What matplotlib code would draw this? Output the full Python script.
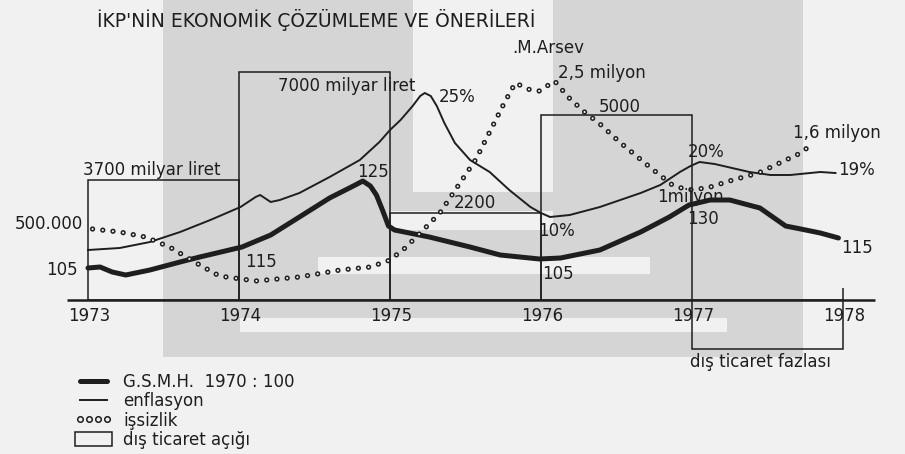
import numpy as np
import matplotlib
matplotlib.use('Agg')
import matplotlib.pyplot as plt
from matplotlib.lines import Line2D
from matplotlib.patches import Patch, Rectangle

plt.rcParams['font.family'] = 'DejaVu Sans'

# the drawing is schematic: y values are read as "height above the base line"
# in the drawing's own units, x values in years

# dis ticaret acigi / fazlasi boxes (one per year)
box_year = [1973, 1974, 1975, 1976, 1977]
box_level = [120, 228, 87, 185, -49]
box_label = ["3700 milyar liret", "7000 milyar liret", "2200", "5000", "dış ticaret fazlası"]

# G.S.M.H. 1970:100
gsmh_year = [1973.00, 1973.08, 1973.16, 1973.25, 1973.41, 1973.61, 1973.74, 1974.02,
             1974.21, 1974.40, 1974.60, 1974.77, 1974.82, 1974.87, 1974.91, 1974.95,
             1974.99, 1975.03, 1975.26, 1975.53, 1975.73, 1975.99, 1976.13, 1976.39,
             1976.66, 1976.85, 1976.98, 1977.12, 1977.25, 1977.45, 1977.62, 1977.72,
             1977.85, 1977.97]
gsmh_level = [32, 33, 28, 25, 30, 38, 43, 53,
              65, 83, 102, 115, 119, 114, 105, 90,
              74, 70, 63, 53, 45, 41, 42, 50,
              68, 83, 95, 100, 100, 92, 74, 71,
              67, 62]

# enflasyon
enf_year = [1973.00, 1973.21, 1973.41, 1973.61, 1973.81, 1974.01, 1974.11, 1974.14,
            1974.21, 1974.27, 1974.40, 1974.60, 1974.80, 1974.93, 1975.00, 1975.07,
            1975.15, 1975.20, 1975.23, 1975.27, 1975.31, 1975.36, 1975.43, 1975.53,
            1975.66, 1975.79, 1975.93, 1976.00, 1976.06, 1976.19, 1976.39, 1976.66,
            1976.79, 1976.92, 1976.99, 1977.05, 1977.15, 1977.38, 1977.52, 1977.65,
            1977.85, 1977.95]
enf_level = [50, 52, 58, 68, 80, 93, 103, 105,
             98, 100, 107, 123, 140, 158, 170, 180,
             194, 204, 207, 204, 194, 177, 157, 140,
             128, 110, 93, 87, 83, 85, 93, 107,
             115, 128, 134, 138, 136, 128, 125, 125,
             128, 127]

# issizlik
iss_year = [1973.03, 1973.21, 1973.38, 1973.54, 1973.74, 1973.87, 1974.11, 1974.40,
            1974.67, 1974.87, 1975.00, 1975.10, 1975.22, 1975.33, 1975.45, 1975.57,
            1975.67, 1975.76, 1975.83, 1975.93, 1975.99, 1976.09, 1976.18, 1976.28,
            1976.39, 1976.52, 1976.72, 1976.87, 1976.97, 1977.10, 1977.27, 1977.44,
            1977.58, 1977.72, 1977.77]
iss_level = [71, 68, 63, 53, 35, 24, 19, 23,
             30, 33, 40, 52, 70, 87, 114, 141,
             171, 198, 217, 210, 209, 219, 203, 189,
             176, 158, 133, 115, 110, 112, 120, 127,
             137, 147, 153]

years = [1973, 1974, 1975, 1976, 1977, 1978]

ink = '#1e1e1e'
paper = '#f1f1f1'
shade = '#d5d5d5'

W, H = 905, 454
fig = plt.figure(figsize=(W/100, H/100), dpi=100)
fig.patch.set_facecolor(paper)
ax = fig.add_axes([0, 0, 1, 1])
ax.set_facecolor(paper)
ax.set_xlim(1973 - 88/151, 1973 + (W - 88)/151)
ax.set_ylim(300 - H, 300)
ax.axis('off')

# grey watermark of the scan, (x0, y0, x1, y1) in pixels from top left
def px_rect(x0, y0, x1, y1, c):
    ax.add_patch(Rectangle((x0/W, 1 - y1/H), (x1 - x0)/W, (y1 - y0)/H,
                           transform=ax.transAxes, color=c, lw=0, zorder=0))

px_rect(163, 0, 803, 357, shade)
px_rect(413, 0, 553, 192, paper)
px_rect(390, 211, 553, 230, paper)
px_rect(318, 257, 650, 274, paper)
px_rect(240, 318, 727, 332, paper)

# trade boxes
ax.bar(box_year, box_level, width=1.0, align='edge', fill=False,
       edgecolor=ink, linewidth=1.1, zorder=2)
ax.vlines(1978, 0, 12, color=ink, lw=1.1, zorder=2)

# base line
ax.hlines(0, 1972.86, 1978.21, color=ink, lw=1.8, zorder=3)

ax.plot(enf_year, enf_level, color=ink, lw=1.4, solid_joinstyle='round', zorder=4)
ax.plot(gsmh_year, gsmh_level, color=ink, lw=3.6, solid_capstyle='round',
        solid_joinstyle='round', zorder=5)

# hollow dots: black round dashes with smaller background dashes on top
period = 7.4
lw_o, lw_i = 3.8, 1.6
ax.plot(iss_year, iss_level, color=ink, lw=lw_o, dash_capstyle='round',
        linestyle=(0, (0.01, period/lw_o - 0.01)), zorder=6)
ax.plot(iss_year, iss_level, color=paper, lw=lw_i, dash_capstyle='round',
        linestyle=(0, (0.01, period/lw_i - 0.01)), zorder=7)

fs = 12
for y in years:
    ax.text(y + 0.01, -16, str(y), ha='center', va='center', fontsize=fs, color=ink)

# box labels
ax.text(1972.97, 130, box_label[0], ha='left', va='center', fontsize=fs, color=ink)
ax.text(1974.26, 214, box_label[1], ha='left', va='center', fontsize=fs, color=ink)
ax.text(1975.42, 97, box_label[2], ha='left', va='center', fontsize=fs, color=ink)
ax.text(1976.38, 193, box_label[3], ha='left', va='center', fontsize=fs, color=ink)
ax.text(1976.99, -62, box_label[4], ha='left', va='center', fontsize=fs, color=ink)

# point labels
ax.text(1972.97, 76, "500.000", ha='right', va='center', fontsize=fs, color=ink)
ax.text(1972.93, 30, "105", ha='right', va='center', fontsize=fs, color=ink)
ax.text(1974.04, 38, "115", ha='left', va='center', fontsize=fs, color=ink)
ax.text(1974.99, 128, "125", ha='right', va='center', fontsize=fs, color=ink)
ax.text(1975.32, 203, "25%", ha='left', va='center', fontsize=fs, color=ink)
ax.text(1976.11, 227, "2,5 milyon", ha='left', va='center', fontsize=fs, color=ink)
ax.text(1975.98, 69, "10%", ha='left', va='center', fontsize=fs, color=ink)
ax.text(1976.01, 26, "105", ha='left', va='center', fontsize=fs, color=ink)
ax.text(1976.97, 148, "20%", ha='left', va='center', fontsize=fs, color=ink)
ax.text(1976.77, 103, "1milyon", ha='left', va='center', fontsize=fs, color=ink, zorder=8)
ax.text(1976.97, 81, "130", ha='left', va='center', fontsize=fs, color=ink)
ax.text(1977.67, 167, "1,6 milyon", ha='left', va='center', fontsize=fs, color=ink)
ax.text(1977.97, 130, "19%", ha='left', va='center', fontsize=fs, color=ink)
ax.text(1977.99, 52, "115", ha='left', va='center', fontsize=fs, color=ink)

ax.text(1975.81, 252, ".M.Arsev", ha='left', va='center', fontsize=fs, color=ink)
ax.text(1973.06, 280, "İKP'NİN EKONOMİK ÇÖZÜMLEME VE ÖNERİLERİ", ha='left', va='center',
        fontsize=13.5, color=ink)

handles = [Line2D([], [], color=ink, lw=3.6, solid_capstyle='round'),
           Line2D([], [], color=ink, lw=1.4),
           Line2D([], [], ls='none', marker='o', ms=4, mfc=paper, mec=ink, mew=1.1),
           Patch(facecolor='none', edgecolor=ink, lw=1.1)]
labels = ["G.S.M.H.  1970 : 100", "enflasyon", "işsizlik", "dış ticaret açığı"]
leg = ax.legend(handles, labels, loc='upper left', bbox_to_anchor=(75/W, 1 - 373/H),
                bbox_transform=fig.transFigure, frameon=False, fontsize=fs,
                handlelength=2.2, handletextpad=0.7, handleheight=0.9,
                labelspacing=0.08, borderpad=0, borderaxespad=0, numpoints=4)
for t in leg.get_texts():
    t.set_color(ink)

plt.savefig("out.png", dpi=100, facecolor=paper)
plt.close()
